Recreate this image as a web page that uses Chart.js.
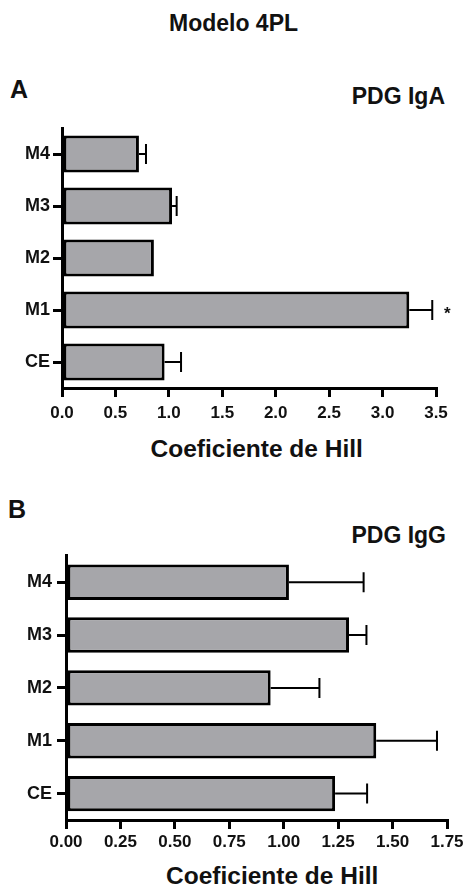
<!DOCTYPE html>
<html>
<head>
<meta charset="utf-8">
<script src="https://cdn.jsdelivr.net/npm/chart.js@4/dist/chart.umd.min.js"></script>
<style>
  html, body { margin: 0; padding: 0; background: #fff; }
  #wrap { position: relative; width: 467px; height: 886px; overflow: hidden; background: #fff;
          font-family: 'Liberation Sans', Arial, sans-serif; font-weight: bold; color: #111; }
  .t { position: absolute; white-space: nowrap; line-height: 1; }
  canvas { position: absolute; left: 0; }
</style>
</head>
<body>
<div id="wrap">
  <div class="t" style="left:0;width:467px;text-align:center;top:12px;font-size:23px;padding-left:0;">
    <span style="position:relative;left:0">Modelo 4PL</span></div>
  <div class="t" style="left:10px;top:77px;font-size:25px;">A</div>
  <div class="t" style="right:22px;top:85px;font-size:23px;">PDG IgA</div>
  <div class="t" style="left:8px;top:497px;font-size:25px;">B</div>
  <div class="t" style="right:21px;top:524px;font-size:23px;">PDG IgG</div>
  <div class="t" id="xtA" style="top:437px;font-size:24.5px;">Coeficiente de Hill</div>
  <div class="t" id="xtB" style="top:864px;font-size:24.5px;">Coeficiente de Hill</div>
  <canvas id="cA" width="467" height="330" style="top:100px"></canvas>
  <canvas id="cB" width="467" height="320" style="top:540px"></canvas>
</div>
<script>
// ---- data ----
const categories = ["M4", "M3", "M2", "M1", "CE"];
const igaValues  = [0.72, 1.03, 0.86, 3.25, 0.96];
const igaErrors  = [0.066, 0.043, 0, 0.215, 0.154];
const igaMarks   = ["", "", "", "*", ""];
const iggValues  = [1.024, 1.30, 0.94, 1.425, 1.236];
const iggErrors  = [0.343, 0.08, 0.224, 0.279, 0.147];
const iggMarks   = ["", "", "", "", ""];
const igaTicks   = {min: 0, max: 3.5, step: 0.5, decimals: 1};
const iggTicks   = {min: 0, max: 1.75, step: 0.25, decimals: 2};

// center axis titles
function centerTitle(id, cx) {
  const el = document.getElementById(id);
  el.style.left = (cx - el.offsetWidth / 2) + 'px';
}
centerTitle('xtA', 256.5);
centerTitle('xtB', 272);

const FONT = "'Liberation Sans', Arial, sans-serif";

const errorBars = {
  id: 'errorBars',
  afterDatasetsDraw(chart, args, opts) {
    const ctx = chart.ctx;
    const xs = chart.scales.x;
    const meta = chart.getDatasetMeta(0);
    const vals = chart.data.datasets[0].data;
    ctx.save();
    ctx.strokeStyle = '#000';
    ctx.fillStyle = '#111';
    ctx.lineWidth = 2;
    meta.data.forEach((bar, i) => {
      const e = opts.errors[i];
      const y = bar.y;
      let xEnd = xs.getPixelForValue(vals[i]);
      if (e) {
        const x0 = xs.getPixelForValue(vals[i]);
        const x1 = xs.getPixelForValue(vals[i] + e);
        ctx.beginPath();
        ctx.moveTo(x0, y); ctx.lineTo(x1, y);
        ctx.moveTo(x1, y - 10); ctx.lineTo(x1, y + 10);
        ctx.stroke();
        xEnd = x1;
      }
      if (opts.marks && opts.marks[i]) {
        ctx.font = 'bold 17px ' + FONT;
        ctx.textAlign = 'center';
        ctx.textBaseline = 'middle';
        ctx.fillText(opts.marks[i], xEnd + 15, y + 4);
      }
    });
    ctx.restore();
  }
};

function makeChart(id, values, errors, marks, tk, opt) {
  return new Chart(document.getElementById(id), {
    type: 'bar',
    data: {
      labels: categories,
      datasets: [{
        data: values,
        backgroundColor: '#a6a6aa',
        borderColor: '#000',
        borderWidth: 3,
        borderSkipped: false,
        categoryPercentage: 1,
        barPercentage: opt.barPct
      }]
    },
    options: {
      indexAxis: 'y',
      responsive: false,
      animation: false,
      layout: { padding: { top: opt.padTop, right: opt.padRight, left: 0, bottom: 0 } },
      plugins: {
        legend: { display: false },
        tooltip: { enabled: false },
        errorBars: { errors: errors, marks: marks }
      },
      scales: {
        x: {
          type: 'linear',
          min: tk.min, max: tk.max,
          afterFit: s => { s.height = opt.xHeight; },
          afterBuildTicks: s => {
            const t = [];
            for (let v = tk.min; v <= tk.max + 1e-9; v += tk.step) t.push({ value: +v.toFixed(4) });
            s.ticks = t;
          },
          ticks: {
            color: '#111',
            padding: opt.xPad,
            maxRotation: 0,
            autoSkip: false,
            font: { family: FONT, size: 17, weight: 'bold' },
            callback: v => Number(v).toFixed(tk.decimals)
          },
          grid: { drawOnChartArea: false, drawTicks: true, tickLength: 9, color: '#000', lineWidth: 3 },
          border: { display: true, color: '#000', width: 3 }
        },
        y: {
          afterFit: s => { s.width = opt.yWidth; },
          ticks: {
            color: '#111',
            padding: opt.yPad,
            font: { family: FONT, size: 18, weight: 'bold' }
          },
          grid: { offset: false, drawOnChartArea: false, drawTicks: true, tickLength: 9, color: '#000', lineWidth: 3 },
          border: { display: true, color: '#000', width: 3 }
        }
      }
    },
    plugins: [errorBars]
  });
}

makeChart('cA', igaValues, igaErrors, igaMarks, igaTicks,
  { barPct: 0.71, padTop: 28, padRight: 31, xHeight: 42, yWidth: 62, xPad: 6, yPad: 3 });
makeChart('cB', iggValues, iggErrors, iggMarks, iggTicks,
  { barPct: 0.67, padTop: 13, padRight: 20, xHeight: 40, yWidth: 66, xPad: 3, yPad: 5 });
</script>
</body>
</html>
